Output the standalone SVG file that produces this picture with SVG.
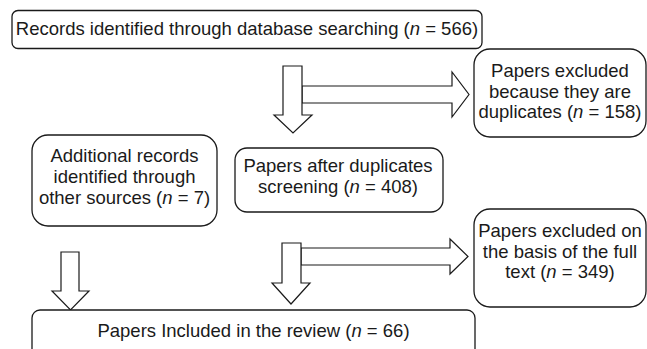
<svg xmlns="http://www.w3.org/2000/svg" width="647" height="349" viewBox="0 0 647 349">
<style>
.box{fill:#fff;stroke:#1a1a1a;stroke-width:1.3}
.arr{fill:#fff;stroke:#1a1a1a;stroke-width:1.2;stroke-linejoin:miter}
text{font-family:"Liberation Sans",Arial,sans-serif;font-size:18.5px;fill:#1a1a1a;text-anchor:middle}
.i{font-style:italic}
</style>
<rect width="647" height="349" fill="#fff"/>
<g id="connectors">
<polygon class="arr" points="302,86 452,86 452,72 469,94.5 452,117 452,103 302,103"/>
<polygon class="arr" points="283,66 302,66 302,115 312,115 293,133 274,115 283,115"/>
<polygon class="arr" points="301,248 450,248 450,239 468,256.5 450,274 450,265 301,265"/>
<polygon class="arr" points="282,243 301,243 301,283 310,283 291,304 272,283 282,283"/>
<polygon class="arr" points="61,252 79,252 79,291 89,291 70.5,310 52,291 61,291"/>
</g>
<g id="n1">
<rect class="box" x="12" y="10.5" width="470" height="38" rx="6"/>
<text x="247" y="35">Records identified through database searching (<tspan class="i">n</tspan> = 566)</text>
</g>
<g id="n2">
<rect class="box" x="474" y="49" width="172" height="88" rx="16"/>
<text x="560" y="77">Papers excluded</text>
<text x="560" y="97.5">because they are</text>
<text x="560" y="118">duplicates (<tspan class="i">n</tspan> = 158)</text>
</g>
<g id="n3">
<rect class="box" x="32" y="135" width="185" height="91" rx="16"/>
<text x="124.5" y="162">Additional records</text>
<text x="124.5" y="183">identified through</text>
<text x="124.5" y="204">other sources (<tspan class="i">n</tspan> = 7)</text>
</g>
<g id="n4">
<rect class="box" x="235" y="148" width="208" height="64" rx="12"/>
<text x="338" y="172">Papers after duplicates</text>
<text x="338" y="193">screening (<tspan class="i">n</tspan> = 408)</text>
</g>
<g id="n5">
<rect class="box" x="474" y="209" width="172" height="98" rx="16"/>
<text x="560" y="237">Papers excluded on</text>
<text x="560" y="257.5">the basis of the full</text>
<text x="560" y="278">text (<tspan class="i">n</tspan> = 349)</text>
</g>
<g id="n6">
<rect class="box" x="32" y="310" width="443" height="70" rx="8"/>
<text x="253.5" y="337">Papers Included in the review (<tspan class="i">n</tspan> = 66)</text>
</g>
</svg>
